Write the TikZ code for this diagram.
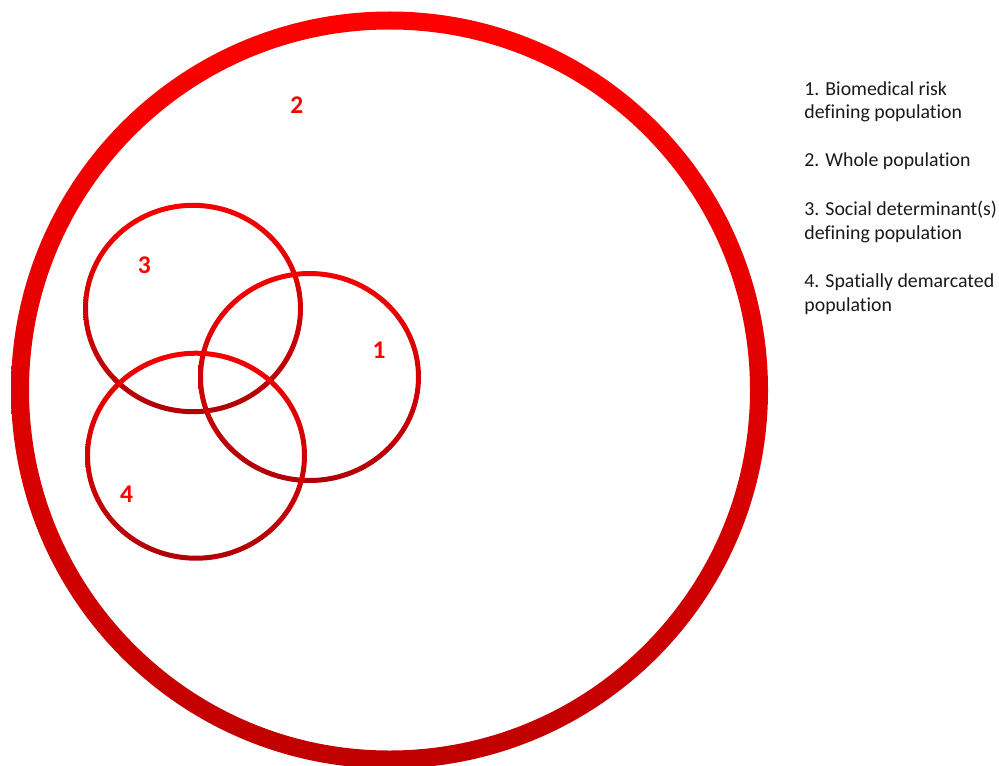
\documentclass[tikz,border=0pt]{standalone}
\usepackage{fontspec}
\setmainfont{Carlito}[Ligatures=NoCommon]
\usepackage{xcolor}
\usepackage{tikz}
\definecolor{popred}{HTML}{FF0000}
\definecolor{popdark}{HTML}{C00000}
\definecolor{popdeep}{HTML}{B00008}
\definecolor{legendtext}{HTML}{1A1A1A}

\begin{document}
\begin{tikzpicture}[
    x=0.02cm, y=0.02cm,
    bigring/.style={even odd rule, top color=popred, middle color=popred, bottom color=popdark},
    smallring/.style={even odd rule, top color=popred!96!black, bottom color=popdeep},
    ringlabel/.style={text=popred, font=\fontsize{14.5}{16}\selectfont\bfseries, inner sep=0pt},
    legend/.style={text=legendtext, font=\fontsize{11.3}{13.4}\selectfont, align=left,
        anchor=base west, inner sep=0pt}
]
    \useasboundingbox (0,0) rectangle (999,765);

    % whole population
    \shade[bigring] (389.5,375) circle [radius=378.5] (389.5,375) circle [radius=360.5];

    % the three overlapping sub-populations
    \foreach \cx/\cy/\rx/\ry in {193/456.5/110/105.7, 309.5/388/111.5/106, 196/309.3/111/105}
        \shade[smallring] (\cx,\cy) ellipse [x radius=\rx, y radius=\ry]
            (\cx,\cy) ellipse [x radius=\rx-5, y radius=\ry-5];

    \node[ringlabel] (n2) at (296.7,660) {2};
    \node[ringlabel] (n3) at (144.3,500) {3};
    \node[ringlabel] (n1) at (379,415) {1};
    \node[ringlabel] (n4) at (126.7,270.7) {4};

    % base of a two-line node is its last line
    \node[legend] (leg1) at (804,646) {1. Biomedical risk\\defining population};
    \node[legend] (leg2) at (804,598.5) {2. Whole population};
    \node[legend] (leg3) at (804,526) {3. Social determinant(s)\\defining population};
    \node[legend] (leg4) at (804,454) {4. Spatially demarcated\\population};
\end{tikzpicture}
\end{document}
